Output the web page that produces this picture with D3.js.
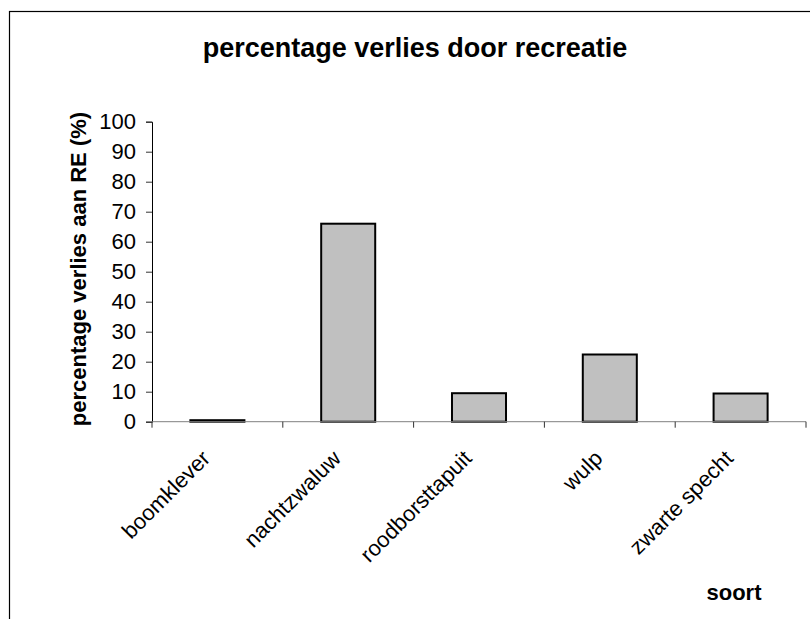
<!DOCTYPE html>
<html>
<head>
<meta charset="utf-8">
<script src="https://cdn.jsdelivr.net/npm/d3@7"></script>
<style>
  html, body { margin: 0; padding: 0; background: #fff; }
  svg { display: block; }
  text { font-family: "Liberation Sans", Arial, sans-serif; fill: #000; }
</style>
</head>
<body>
<svg id="chart" width="810" height="619"></svg>
<script>
const categories = ["boomklever", "nachtzwaluw", "roodborsttapuit", "wulp", "zwarte specht"];
const values = [0.5, 66, 9.5, 22.4, 9.4];
const yTicks = [0, 10, 20, 30, 40, 50, 60, 70, 80, 90, 100];
const titleText = "percentage verlies door recreatie";
const yTitle = "percentage verlies aan RE (%)";
const xTitle = "soort";

const svg = d3.select("#chart");
const plot = { left: 152, right: 806, top: 121.7, bottom: 421.7 };

// chart-area border (extends beyond the visible frame on right/bottom)
svg.append("rect")
  .attr("x", 9.5).attr("y", 11.5)
  .attr("width", 1000).attr("height", 1000)
  .attr("fill", "none").attr("stroke", "#000").attr("stroke-width", 1.2);

const x = d3.scaleBand().domain(categories).range([plot.left, plot.right]).paddingInner(0).paddingOuter(0);
const y = d3.scaleLinear().domain([0, 100]).range([plot.bottom, plot.top]);
const barFrac = 0.413;

// title
svg.append("text")
  .attr("x", 415).attr("y", 57)
  .attr("text-anchor", "middle")
  .style("font-size", "27px").style("font-weight", "bold")
  .text(titleText);

// y axis
const yAxis = d3.axisLeft(y).tickValues(yTicks).tickSize(6).tickPadding(10).tickFormat(d3.format("d"));
const gy = svg.append("g").attr("transform", `translate(${plot.left},0)`).call(yAxis);
gy.select(".domain").attr("stroke", "#000").attr("stroke-width", 1);
gy.selectAll(".tick line").attr("stroke", "#333");
gy.selectAll(".tick text").style("font-size", "22px").style("font-family", "Liberation Sans, Arial, sans-serif").attr("fill", "#000");

// bars
svg.append("g").selectAll("rect").data(categories).join("rect")
  .attr("x", d => x(d) + x.bandwidth() * (1 - barFrac) / 2)
  .attr("width", x.bandwidth() * barFrac)
  .attr("y", (d, i) => y(values[i]))
  .attr("height", (d, i) => y(0) - y(values[i]))
  .attr("fill", "#c0c0c0")
  .attr("stroke", "#000")
  .attr("stroke-width", 2);

// x axis line + boundary ticks
const gx = svg.append("g").attr("transform", `translate(0,${plot.bottom})`);
gx.append("line").attr("x1", plot.left).attr("x2", plot.right).attr("y1", 0).attr("y2", 0)
  .attr("stroke", "#808080").attr("stroke-width", 1);
const bounds = categories.map(c => x(c)).concat([x(categories[categories.length - 1]) + x.bandwidth()]);
gx.selectAll("line.tk").data(bounds).join("line").attr("class", "tk")
  .attr("x1", d => d).attr("x2", d => d).attr("y1", 0).attr("y2", 6)
  .attr("stroke", "#333").attr("stroke-width", 1);

// category labels rotated -45
svg.append("g").selectAll("text").data(categories).join("text")
  .attr("transform", d => `translate(${x(d) + x.bandwidth() / 2 - 6},${plot.bottom + 38}) rotate(-45)`)
  .attr("text-anchor", "end")
  .style("font-size", "22px")
  .text(d => d);

// y-axis title
svg.append("text")
  .attr("transform", `translate(86,269) rotate(-90)`)
  .attr("text-anchor", "middle")
  .style("font-size", "22px").style("font-weight", "bold")
  .text(yTitle);

// x-axis title
svg.append("text")
  .attr("x", 734).attr("y", 600)
  .attr("text-anchor", "middle")
  .style("font-size", "22px").style("font-weight", "bold")
  .text(xTitle);
</script>
</body>
</html>
